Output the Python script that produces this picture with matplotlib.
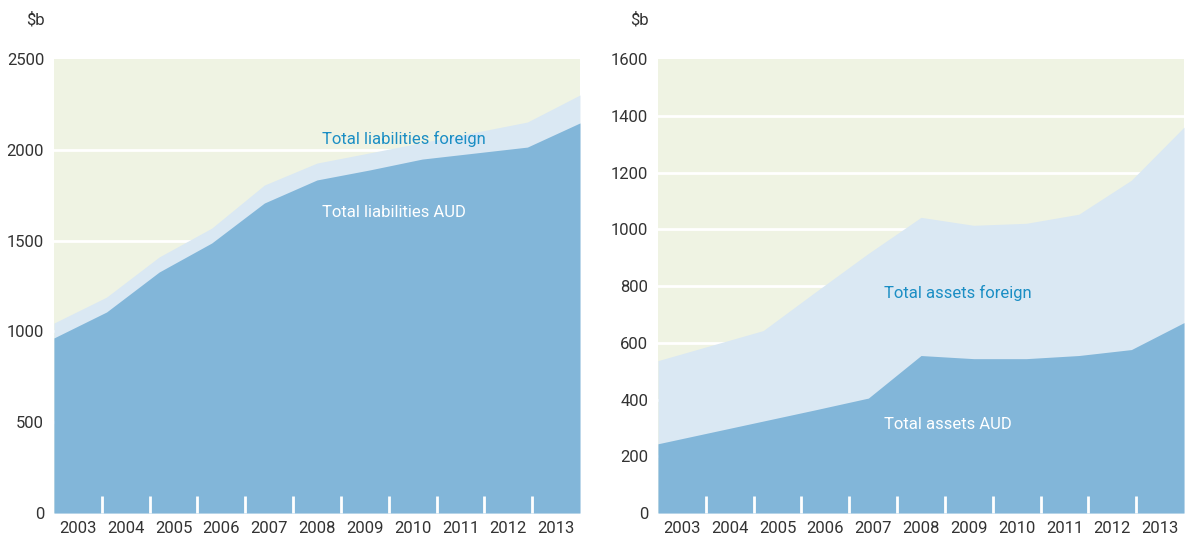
import numpy as np
import matplotlib.pyplot as plt

# Data, $b
years = ['2003', '2004', '2005', '2006', '2007', '2008', '2009', '2010', '2011', '2012', '2013']
liab_aud = [964, 1107, 1327, 1487, 1707, 1834, 1889, 1949, 1982, 2015, 2148]
liab_total = [1046, 1189, 1410, 1569, 1806, 1927, 1983, 2040, 2096, 2153, 2302]
assets_aud = [244, 284, 324, 364, 405, 555, 544, 544, 555, 576, 671]
assets_total = [537, 590, 643, 780, 915, 1042, 1014, 1021, 1053, 1173, 1360]

bg = '#eff3e3'
c_aud = '#82b6d9'
c_for = '#dae8f3'
c_lab = '#1b8ec4'
c_txt = '#333333'

plt.rcParams['font.family'] = ['Roboto', 'DejaVu Sans']

fig = plt.figure(figsize=(11.86, 5.4), dpi=100)
ax1 = fig.add_axes([0.0455, 0.05, 0.4435, 0.8407])
ax2 = fig.add_axes([0.5548, 0.05, 0.4435, 0.8407])

n = len(years)
x = np.linspace(0, n, n)


def draw(ax, aud, total, ymax, step):
    ax.set_facecolor(bg)
    for g in np.arange(step, ymax, step):
        ax.axhline(g, color='white', lw=2, zorder=1)
    ax.fill_between(x, 0, total, color=c_for, lw=0, zorder=2)
    ax.fill_between(x, 0, aud, color=c_aud, lw=0, zorder=3)
    ax.set_xlim(0, n)
    ax.set_ylim(0, ymax)
    ax.set_yticks(np.arange(0, ymax + 1, step))
    ax.set_xticks(np.arange(n) + 0.5)
    ax.set_xticklabels(years)
    ax.set_xticks(np.arange(1, n), minor=True)
    ax.tick_params(axis='x', which='major', length=0, pad=6, labelsize=12, labelcolor=c_txt)
    ax.tick_params(axis='x', which='minor', direction='in', length=12, width=2, color='white')
    ax.tick_params(axis='y', length=0, pad=7, labelsize=12, labelcolor=c_txt)
    for s in ax.spines.values():
        s.set_visible(False)
    ax.xaxis.set_zorder(5)
    ax.text(-0.017, 1.086, '$b', transform=ax.transAxes, ha='right', va='center',
            fontsize=12, color=c_txt)


draw(ax1, liab_aud, liab_total, 2500, 500)
draw(ax2, assets_aud, assets_total, 1600, 200)

ax1.text(5.6, 2060, 'Total liabilities foreign', color=c_lab, fontsize=12, va='center', zorder=6)
ax1.text(5.6, 1655, 'Total liabilities AUD', color='white', fontsize=12, va='center', zorder=6)
ax2.text(4.73, 777, 'Total assets foreign', color=c_lab, fontsize=12, va='center', zorder=6)
ax2.text(4.73, 311, 'Total assets AUD', color='white', fontsize=12, va='center', zorder=6)

plt.savefig('out.png', dpi=100)
